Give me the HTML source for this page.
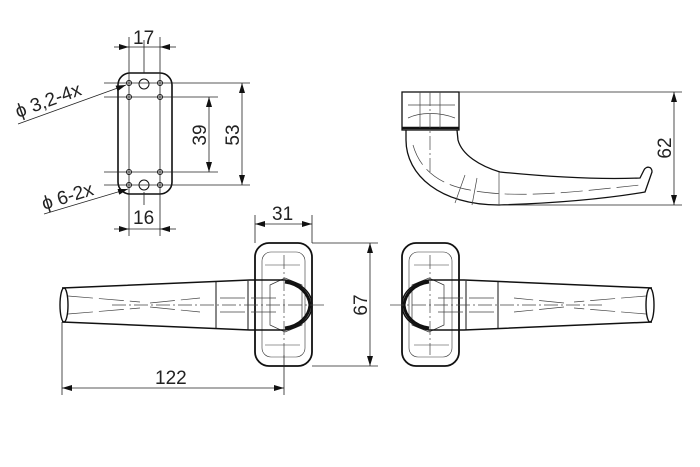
<!DOCTYPE html>
<html><head><meta charset="utf-8"><style>
html,body{margin:0;padding:0;background:#fff;width:700px;height:467px;overflow:hidden}
svg{display:block}
text{font-family:"Liberation Sans",sans-serif;font-size:19px;fill:#222}
</style></head><body>
<svg width="700" height="467" viewBox="0 0 700 467" xmlns="http://www.w3.org/2000/svg">
<defs>
<marker id="a" viewBox="0 0 10 6" refX="10" refY="3" markerWidth="11" markerHeight="6" orient="auto-start-reverse" markerUnits="userSpaceOnUse"><path d="M0,0L10,3L0,6z" fill="#111"/></marker>
<g id="fv">
<rect x="255" y="243" width="57" height="123" rx="14" fill="none" stroke="#111" stroke-width="1.8"/>
<rect x="262" y="252" width="43" height="105" rx="9" fill="none" stroke="#333" stroke-width="0.6"/>
<path d="M265,265 L300,265 M265,345 L300,345" stroke="#333" stroke-width="0.6"/>
<path d="M270,285 L285,278 L302,285 L302,325 L285,332 L270,325z" fill="none" stroke="#333" stroke-width="0.7"/>
<path d="M62,288 L250,280 L285,280 C300,282 312,292 312,305 C312,318 300,328 285,330 L250,330 L62,322" fill="none" stroke="#111" stroke-width="1.5"/>
<ellipse cx="64" cy="305" rx="4" ry="17" fill="none" stroke="#111" stroke-width="1.4"/>
<path d="M216,282 L216,328 M248,281 L248,330" stroke="#111" stroke-width="1"/>
<path d="M285,282 C300,284 309,294 310,305 C309,316 300,326 285,328" fill="none" stroke="#111" stroke-width="3"/>
<path d="M68,296 L140,302 M150,303 L200,298 M68,314 L140,308 M150,307 L200,312 M220,298 L280,298 M220,312 L280,312" stroke="#444" stroke-width="0.7" stroke-dasharray="25,6"/>
<path d="M112,305 L327,305" stroke="#444" stroke-width="0.8" stroke-dasharray="14,3,2,3"/>
<path d="M284,255 L284,355" stroke="#444" stroke-width="0.7" stroke-dasharray="14,3,2,3"/>
</g>
</defs>

<rect x="118" y="73" width="54" height="121" rx="12" fill="none" stroke="#111" stroke-width="1.6"/>
<g fill="none" stroke="#111" stroke-width="1">
<circle cx="129" cy="83" r="2.5"/><circle cx="160" cy="83" r="2.5"/>
<circle cx="129" cy="97" r="2.5"/><circle cx="160" cy="97" r="2.5"/>
<circle cx="129" cy="172" r="2.5"/><circle cx="160" cy="172" r="2.5"/>
<circle cx="129" cy="185" r="2.5"/><circle cx="160" cy="185" r="2.5"/>
<circle cx="144" cy="84" r="5"/><circle cx="144" cy="185" r="5"/>
</g>
<g stroke="#222" stroke-width="0.8">
<path d="M129,37 L129,236 M160,37 L160,236 M144,40 L144,73 M144,192 L144,205"/>
<path d="M104,83 L250,83 M104,185 L250,185 M104,97 L218,97 M104,172 L218,172"/>
<path d="M114,47 L129,47" marker-end="url(#a)"/>
<path d="M176,47 L160,47" marker-end="url(#a)"/>
<path d="M129,47 L160,47"/>
<path d="M114,229 L129,229" marker-end="url(#a)"/>
<path d="M176,229 L160,229" marker-end="url(#a)"/>
<path d="M129,229 L160,229"/>
<path d="M242,83 L242,185" marker-start="url(#a)" marker-end="url(#a)"/>
<path d="M209,97 L209,172" marker-start="url(#a)" marker-end="url(#a)"/>
<path d="M18,124 L126,85" marker-end="url(#a)"/>
<path d="M44,214 L128,189" marker-end="url(#a)"/>
</g>
<text x="133" y="44">17</text>
<text x="133" y="224">16</text>
<text transform="translate(239,135) rotate(-90)" text-anchor="middle">53</text>
<text transform="translate(206,135) rotate(-90)" text-anchor="middle">39</text>
<text transform="translate(18,118) rotate(-20)">ϕ 3,2-4x</text>
<text transform="translate(44,210) rotate(-17)">ϕ 6-2x</text>

<g fill="none" stroke="#111" stroke-width="1.3">
<rect x="402" y="92" width="57" height="38"/>
<path d="M402,128 L459,128" stroke-width="2.5"/>
<path d="M406,130 L406,140 C406,175 440,205 499,205 C560,203 610,198 645,192 L652,172 C652,166 646,166 644,170 L640,178 C590,180 540,176 500,172 C480,166 462,155 458,140 L457,130"/>
</g>
<g fill="none" stroke="#444" stroke-width="0.7">
<path d="M408,118 C420,112 440,112 455,118 M408,105 L455,105 M420,92 L420,128 M440,92 L440,128"/>
<path d="M413,145 C420,170 440,185 470,190 C520,200 590,190 640,185" stroke-dasharray="22,6"/>
<path d="M465,175 L455,203 M477,178 L472,205 M499,172 L499,205"/>
<path d="M430,92 L430,175" stroke-dasharray="14,3,2,3"/>
</g>
<g stroke="#222" stroke-width="0.8">
<path d="M459,92 L682,92 M500,205 L682,205"/>
<path d="M674,92 L674,205" marker-start="url(#a)" marker-end="url(#a)"/>
</g>
<text transform="translate(671,148) rotate(-90)" text-anchor="middle">62</text>

<use href="#fv"/>
<use href="#fv" transform="translate(714,0) scale(-1,1)"/>

<g stroke="#222" stroke-width="0.8">
<path d="M255,215 L255,243 M312,215 L312,243"/>
<path d="M255,224 L312,224" marker-start="url(#a)" marker-end="url(#a)"/>
<path d="M312,243 L378,243 M312,366 L378,366"/>
<path d="M370,243 L370,366" marker-start="url(#a)" marker-end="url(#a)"/>
<path d="M62,322 L62,395 M284,355 L284,395"/>
<path d="M62,388 L284,388" marker-start="url(#a)" marker-end="url(#a)"/>
</g>
<text x="272" y="220">31</text>
<text transform="translate(367,305) rotate(-90)" text-anchor="middle">67</text>
<text x="155" y="384">122</text>
</svg>
</body></html>
